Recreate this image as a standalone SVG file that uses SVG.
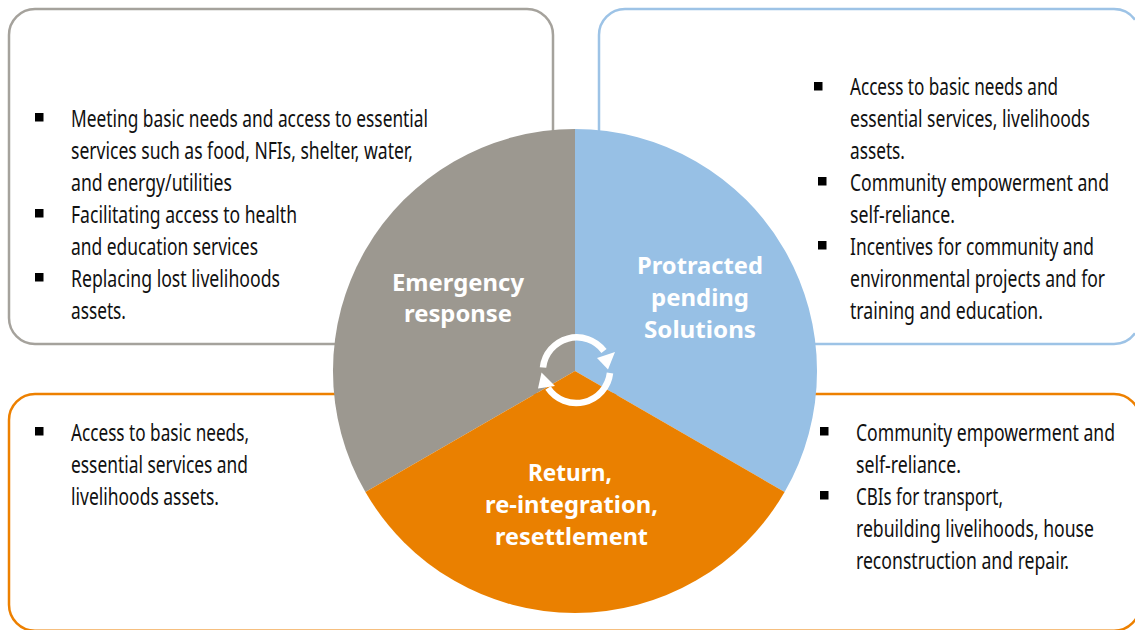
<svg xmlns="http://www.w3.org/2000/svg" width="1135" height="630" viewBox="0 0 1135 630">
<style>
.box{fill:#fff;stroke-width:2.5}
.b{font:23px "Noto Sans","Liberation Sans",sans-serif;fill:#111}
.l{font:bold 24px "Noto Sans","Liberation Sans",sans-serif;fill:#fff}
.s{fill:#000}
.c{fill:none;stroke:#fff;stroke-width:6.500}
</style>
<rect width="1135" height="630" fill="#fff"/>
<g id="box-emergency">
<rect class="box" x="9" y="9" width="544" height="335" rx="26" stroke="#a5a29c"/>
<rect class="s" x="35" y="113" width="8.500" height="8.500"/><rect class="s" x="35" y="209" width="8.500" height="8.500"/><rect class="s" x="35" y="273" width="8.500" height="8.500"/>
<text class="b" x="71" y="127" textLength="357" lengthAdjust="spacingAndGlyphs">Meeting basic needs and access to essential</text>
<text class="b" x="71" y="159" textLength="342" lengthAdjust="spacingAndGlyphs">services such as food, NFIs, shelter, water,</text>
<text class="b" x="71" y="191" textLength="161" lengthAdjust="spacingAndGlyphs">and energy/utilities</text>
<text class="b" x="71" y="223" textLength="226" lengthAdjust="spacingAndGlyphs">Facilitating access to health</text>
<text class="b" x="71" y="255" textLength="187" lengthAdjust="spacingAndGlyphs">and education services</text>
<text class="b" x="71" y="287" textLength="209" lengthAdjust="spacingAndGlyphs">Replacing lost livelihoods</text>
<text class="b" x="71" y="319" textLength="55" lengthAdjust="spacingAndGlyphs">assets.</text>
</g>
<g id="box-protracted">
<path class="box" d="M1135 19.700A26 26 0 0 0 1114 9H625A26 26 0 0 0 599 35V318A26 26 0 0 0 625 344H1114A26 26 0 0 0 1135 333.300" stroke="#9dc3e6"/>
<rect class="s" x="814" y="82" width="8.500" height="8.500"/><rect class="s" x="818" y="177" width="8.500" height="8.500"/><rect class="s" x="818" y="241" width="8.500" height="8.500"/>
<text class="b" x="850" y="95" textLength="208" lengthAdjust="spacingAndGlyphs">Access to basic needs and</text>
<text class="b" x="850" y="127" textLength="240" lengthAdjust="spacingAndGlyphs">essential services, livelihoods</text>
<text class="b" x="850" y="159" textLength="55" lengthAdjust="spacingAndGlyphs">assets.</text>
<text class="b" x="850" y="191" textLength="259" lengthAdjust="spacingAndGlyphs">Community empowerment and</text>
<text class="b" x="850" y="223" textLength="105" lengthAdjust="spacingAndGlyphs">self-reliance.</text>
<text class="b" x="850" y="255" textLength="244" lengthAdjust="spacingAndGlyphs">Incentives for community and</text>
<text class="b" x="850" y="287" textLength="255" lengthAdjust="spacingAndGlyphs">environmental projects and for</text>
<text class="b" x="850" y="319" textLength="193" lengthAdjust="spacingAndGlyphs">training and education.</text>
</g>
<g id="box-return">
<rect class="box" x="9" y="394" width="1131" height="236.700" rx="26" stroke="#ed8000"/>
<rect class="s" x="35" y="427" width="8.500" height="8.500"/>
<text class="b" x="71" y="441" textLength="178" lengthAdjust="spacingAndGlyphs">Access to basic needs,</text>
<text class="b" x="71" y="473" textLength="177" lengthAdjust="spacingAndGlyphs">essential services and</text>
<text class="b" x="71" y="505" textLength="148" lengthAdjust="spacingAndGlyphs">livelihoods assets.</text>
<rect class="s" x="820" y="427" width="8.500" height="8.500"/><rect class="s" x="820" y="491" width="8.500" height="8.500"/>
<text class="b" x="856" y="441" textLength="259" lengthAdjust="spacingAndGlyphs">Community empowerment and</text>
<text class="b" x="856" y="473" textLength="105" lengthAdjust="spacingAndGlyphs">self-reliance.</text>
<text class="b" x="856" y="505" textLength="147" lengthAdjust="spacingAndGlyphs">CBIs for transport,</text>
<text class="b" x="856" y="537" textLength="238" lengthAdjust="spacingAndGlyphs">rebuilding livelihoods, house</text>
<text class="b" x="856" y="569" textLength="213" lengthAdjust="spacingAndGlyphs">reconstruction and repair.</text>
</g>
<g id="sector-emergency">
<path d="M575 371L575 129A242 242 0 0 0 365.400 492Z" fill="#9c9890"/>
<text class="l" x="392" y="291" textLength="132" lengthAdjust="spacingAndGlyphs">Emergency</text>
<text class="l" x="404" y="322" textLength="108" lengthAdjust="spacingAndGlyphs">response</text>
</g>
<g id="sector-protracted">
<path d="M575 371L575 129A242 242 0 0 1 784.600 492Z" fill="#97c0e5"/>
<text class="l" x="637" y="274" textLength="126" lengthAdjust="spacingAndGlyphs">Protracted</text>
<text class="l" x="651" y="306" textLength="98" lengthAdjust="spacingAndGlyphs">pending</text>
<text class="l" x="644" y="338" textLength="112" lengthAdjust="spacingAndGlyphs">Solutions</text>
</g>
<g id="sector-return">
<path d="M575 371L784.600 492A242 242 0 0 1 365.400 492Z" fill="#ea8000"/>
<text class="l" x="528" y="481" textLength="84" lengthAdjust="spacingAndGlyphs">Return,</text>
<text class="l" x="485" y="513" textLength="173" lengthAdjust="spacingAndGlyphs">re-integration,</text>
<text class="l" x="495" y="545" textLength="153" lengthAdjust="spacingAndGlyphs">resettlement</text>
</g>
<g id="connectors">
<path class="c" d="M543 367.500A34 34 0 0 1 604 351"/>
<path d="M597 358L615 352L608 369.500Z" fill="#fff"/>
<path class="c" d="M610 373A34 34 0 0 1 548 388"/>
<path d="M541.500 372.500L538 388.500L555 386Z" fill="#fff"/>
</g>
</svg>
